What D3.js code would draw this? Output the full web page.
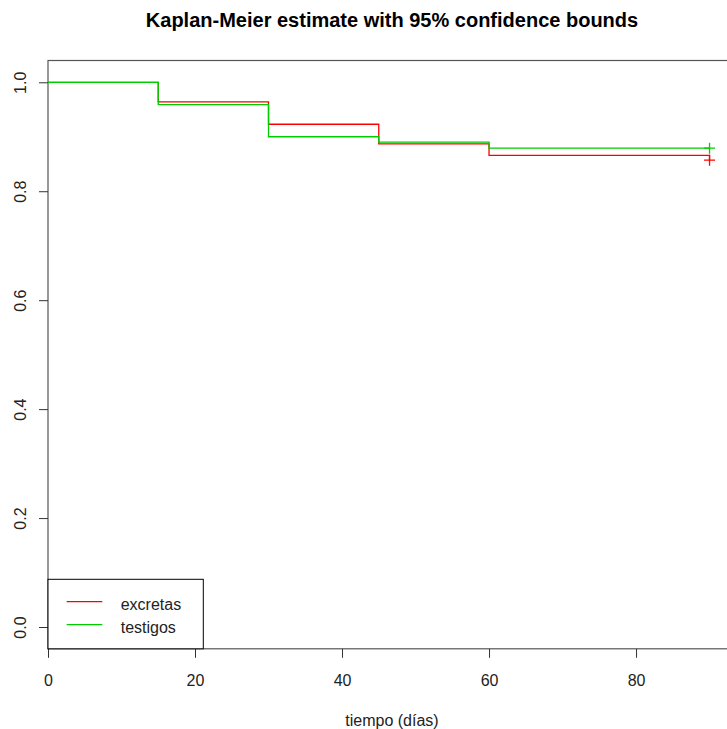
<!DOCTYPE html>
<html>
<head>
<meta charset="utf-8">
<script src="https://cdn.jsdelivr.net/npm/d3@7"></script>
<style>
  body { margin: 0; background: #fff; }
  svg { display: block; font-family: "Liberation Sans", Arial, sans-serif; }
</style>
</head>
<body>
<svg width="727" height="729"></svg>
<script>
// survival curves
var times = [0, 15, 30, 45, 60, 90];
var excretas = [1.0, 0.964, 0.923, 0.887, 0.866, 0.857];
var testigos = [1.0, 0.959, 0.900, 0.890, 0.879, 0.879];
var censorTime = [90];
var xTicks = [0, 20, 40, 60, 80];
var yTicks = [0.0, 0.2, 0.4, 0.6, 0.8, 1.0];
var seriesNames = ["excretas", "testigos"];
var seriesColors = ["#ff0000", "#00cd00"];

var svg = d3.select("svg"),
    pLeft = 48, pRight = 736, pTop = 60.5, pBottom = 648.8;

var x = d3.scaleLinear().domain([0, 93.6]).range([pLeft, pRight]),
    y = d3.scaleLinear().domain([-0.04, 1.04]).range([pBottom, pTop]);

// title
svg.append("text")
    .attr("x", (pLeft + pRight) / 2)
    .attr("y", 27)
    .attr("text-anchor", "middle")
    .style("font-size", "20px")
    .style("font-weight", "bold")
    .text("Kaplan-Meier estimate with 95% confidence bounds");

// plot frame
svg.append("rect")
    .attr("x", pLeft).attr("y", pTop)
    .attr("width", pRight - pLeft).attr("height", pBottom - pTop)
    .attr("fill", "none")
    .attr("stroke", "#555")
    .attr("stroke-width", 1.2);

// x axis
var gx = svg.append("g")
    .attr("transform", "translate(0," + pBottom + ")")
    .call(d3.axisBottom(x).tickValues(xTicks).tickSize(9).tickFormat(d3.format("d")));
gx.select(".domain").remove();
gx.selectAll(".tick line").attr("stroke", "#333");
gx.selectAll(".tick text")
    .attr("y", 37).attr("dy", 0)
    .style("font-size", "16px").style("fill", "#222")
    .style("font-family", "Liberation Sans, Arial, sans-serif");

// y axis
var gy = svg.append("g")
    .attr("transform", "translate(" + pLeft + ",0)")
    .call(d3.axisLeft(y).tickValues(yTicks).tickSize(9).tickFormat(d3.format(".1f")));
gy.select(".domain").remove();
gy.selectAll(".tick line").attr("stroke", "#333");
gy.selectAll(".tick text")
    .attr("x", 0).attr("dy", 0)
    .attr("text-anchor", "middle")
    .attr("transform", "translate(-22.5,0) rotate(-90)")
    .style("font-size", "16px").style("fill", "#222")
    .style("font-family", "Liberation Sans, Arial, sans-serif");

// x label
svg.append("text")
    .attr("x", (pLeft + pRight) / 2)
    .attr("y", 726)
    .attr("text-anchor", "middle")
    .style("font-size", "16px")
    .style("fill", "#222")
    .text("tiempo (días)");

// step lines
var step = d3.line()
    .x(function(d) { return x(d[0]); })
    .y(function(d) { return y(d[1]); })
    .curve(d3.curveStepAfter);

[excretas, testigos].forEach(function(vals, i) {
    var pts = times.map(function(t, j) { return [t, vals[j]]; });
    svg.append("path")
        .datum(pts)
        .attr("d", step)
        .attr("fill", "none")
        .attr("stroke", seriesColors[i])
        .attr("stroke-width", 1.3);

    // censoring marks
    censorTime.forEach(function(ct) {
        var v = vals[times.indexOf(ct)];
        svg.append("path")
            .attr("d", "M" + (x(ct) - 5.5) + "," + y(v) + "h11M" + x(ct) + "," + (y(v) - 5.5) + "v11")
            .attr("stroke", seriesColors[i])
            .attr("stroke-width", 1.3);
    });
});

// legend
var lg = svg.append("g");
lg.append("rect")
    .attr("x", pLeft).attr("y", 579.3)
    .attr("width", 155.3).attr("height", pBottom - 579.3)
    .attr("fill", "#fff")
    .attr("stroke", "#000")
    .attr("stroke-width", 1);
seriesNames.forEach(function(name, i) {
    var ly = 601.7 + i * 23;
    lg.append("line")
        .attr("x1", 66.7).attr("x2", 102.3)
        .attr("y1", ly).attr("y2", ly)
        .attr("stroke", seriesColors[i])
        .attr("stroke-width", 1.2);
    lg.append("text")
        .attr("x", 120.7).attr("y", ly + 8.5)
        .style("font-size", "16px")
        .style("fill", "#222")
        .text(name);
});
</script>
</body>
</html>
